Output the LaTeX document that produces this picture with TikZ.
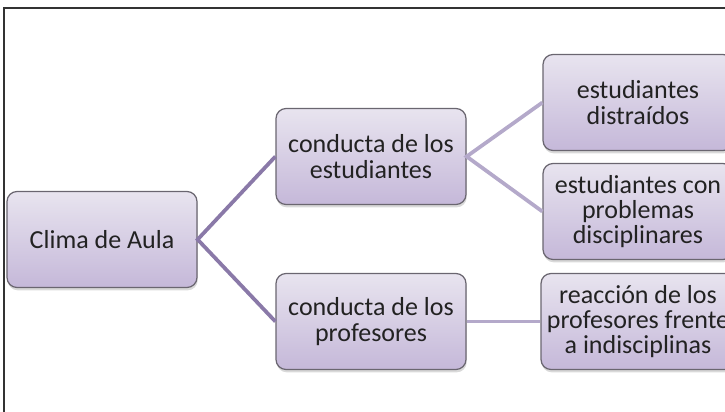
\documentclass[tikz,border=0pt]{standalone}
\usepackage{fontspec}
\setmainfont{Carlito}
\usetikzlibrary{shadows}
\definecolor{boxtop}{HTML}{E8E4EF}
\definecolor{boxbot}{HTML}{C5B8D9}
\definecolor{boxline}{HTML}{6A6670}
\definecolor{linkdark}{HTML}{8A79A8}
\definecolor{linklight}{HTML}{B4A9CA}
\definecolor{textgray}{HTML}{222222}
\tikzset{
	topic/.style={draw=boxline, line width=0.25mm, rounded corners=0.2cm, top color=boxtop, bottom color=boxbot,
		minimum width=3.8cm, minimum height=1.92cm, align=center, text=textgray,
		font=\fontsize{14.8}{14.4}\selectfont,
		drop shadow={opacity=0.3, shadow xshift=0.4pt, shadow yshift=-1.6pt}},
	link/.style={line width=0.75mm, color=linklight},
}

\begin{document}
\begin{tikzpicture}
		%%%%% START %%%%%
		
		\clip (0, 0) rectangle (14.5, 8.22);
		
		\draw[line width=0.4mm, color=black!80] (0.09, -0.2) -- (0.09, 8.06) -- (14.7, 8.06);
		
		\node[topic] (clima) at (2.04, 3.43) {Clima de Aula};
		
		\node[topic] (cestud) at (7.42, 5.09) {conducta de los\\estudiantes};
		\node[topic] (cprof) at (7.42, 1.79) {conducta de los\\profesores};
		
		\node[topic] (distr) at (12.76, 6.17) {estudiantes\\distraídos};
		\node[topic] (probl) at (12.76, 3.99) {estudiantes con\\problemas\\disciplinares};
		\node[topic] (reacc) at (12.76, 1.79) {reacción de los\\profesores frente\\a indisciplinas};
		
		\draw[link, color=linkdark] (cestud.west) -- (clima.east) -- (cprof.west);
		\draw[link] (distr.west) -- (cestud.east) -- (probl.west);
		\draw[link] (cprof.east) -- (reacc.west);
		
		%%%%% END %%%%%
	\end{tikzpicture}
\end{document}
